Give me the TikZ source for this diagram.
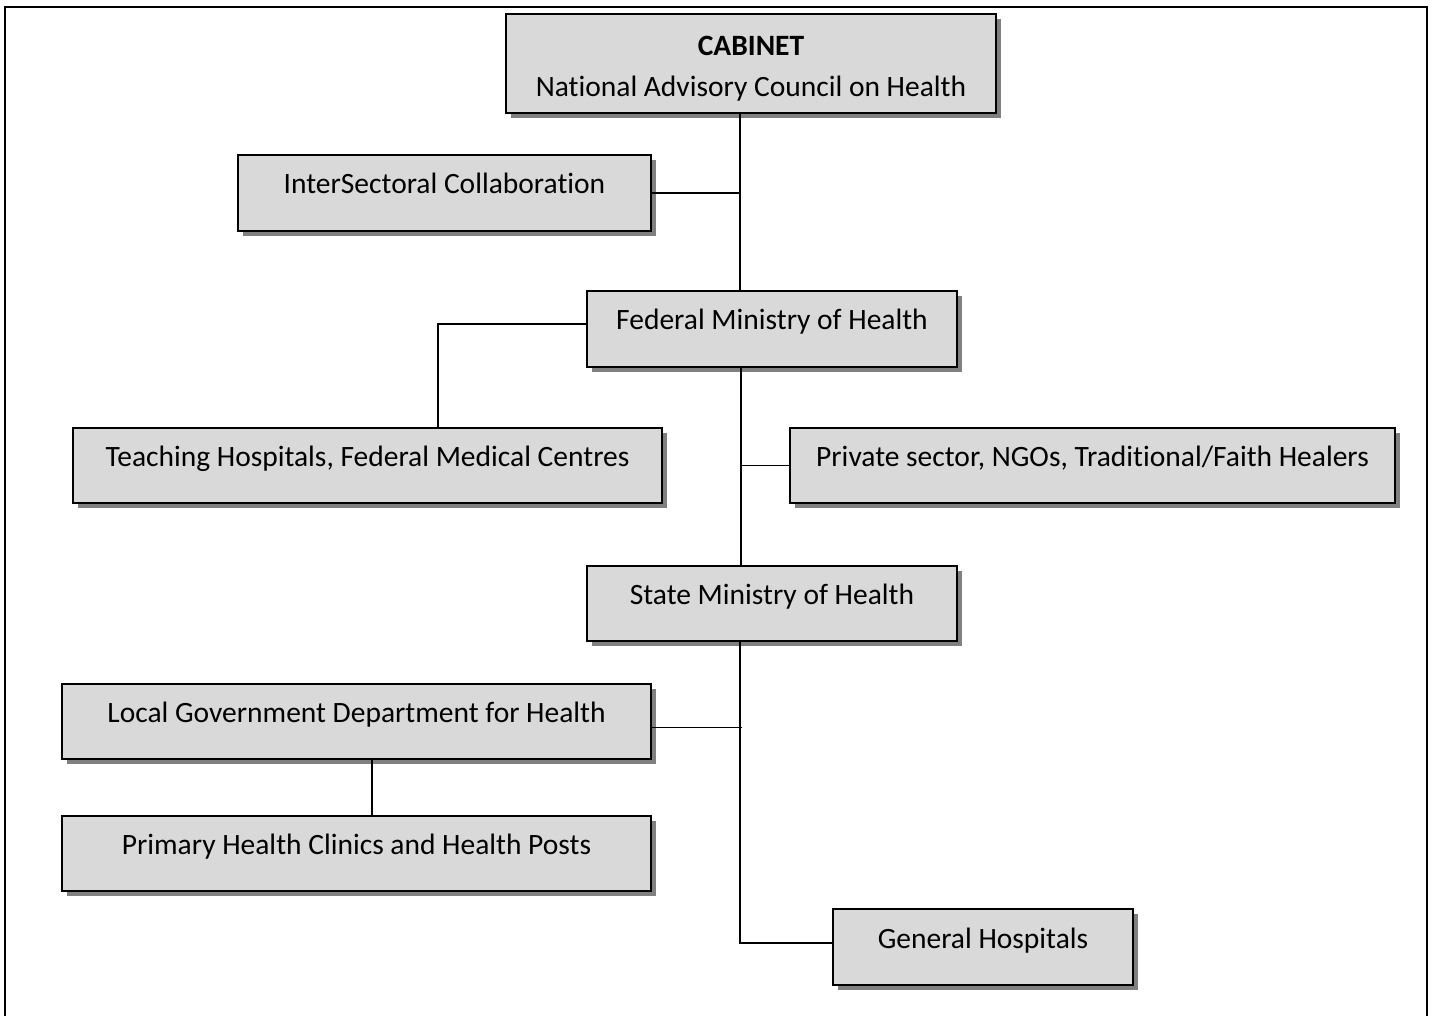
\documentclass[tikz,border=0pt]{standalone}
\usepackage{fontspec}
\setmainfont{Carlito}[Ligatures=NoCommon]
\usetikzlibrary{shadows}
\definecolor{boxfill}{HTML}{D9D9D9}
\definecolor{shade}{HTML}{808080}
\begin{document}
\begin{tikzpicture}[x=1pt,y=-1pt,
  basebox/.style={draw=black, line width=2pt, fill=boxfill, inner sep=0pt,
    font=\fontsize{29.5}{41}\selectfont, align=center,
    drop shadow={shadow xshift=5pt, shadow yshift=-5pt, fill=shade, opacity=1}},
  orgbox/.style={basebox, text height=19pt, text depth=17pt},
  link/.style={draw=black, line width=1.6pt}]
\useasboundingbox (0,0) rectangle (1435,1016);
% outer frame, open at the bottom
\draw[line width=2.5pt] (5,1016) -- (5,7) -- (1427,7) -- (1427,1016);

% boxes
\node[basebox, minimum width=490pt, minimum height=99pt]
  (cab) at (751,63.5) {\rule{0pt}{29pt}\textbf{CABINET}\\National Advisory Council on Health};
\node[orgbox, minimum width=413pt, minimum height=76pt] (inter) at (444.5,193) {InterSectoral Collaboration};
\node[orgbox, minimum width=370pt, minimum height=76pt] (fed) at (772,329) {Federal Ministry of Health};
\node[orgbox, minimum width=589pt, minimum height=75pt] (teach) at (367.5,465.5) {Teaching Hospitals, Federal Medical Centres};
\node[orgbox, minimum width=605pt, minimum height=75pt] (priv) at (1092.5,465.5) {Private sector, NGOs, Traditional/Faith Healers};
\node[orgbox, minimum width=370pt, minimum height=75pt] (state) at (772,603.5) {State Ministry of Health};
\node[orgbox, minimum width=589pt, minimum height=75pt] (local) at (356.5,721.5) {Local Government Department for Health};
\node[orgbox, minimum width=589pt, minimum height=75pt] (prim) at (356.5,853.5) {Primary Health Clinics and Health Posts};
\node[orgbox, minimum width=300pt, minimum height=76pt] (gen) at (983,947) {General Hospitals};

% trunk positions
\coordinate (ta) at (740,0);
\coordinate (tb) at (741,0);
\coordinate (tl) at (438,0);
\coordinate (tp) at (372,0);
\coordinate (gcorner) at (740,943);

% connectors
\draw[link] (cab.south -| ta) -- (fed.north -| ta);
\draw[link] (inter.east) -- (inter.east -| ta);
\draw[link] ([yshift=5pt]fed.west) -| (teach.north -| tl);
\draw[link] (fed.south -| tb) -- (state.north -| tb);
\draw[link] (priv.west) -- (priv.west -| tb);
\draw[link] (state.south -| ta) -- (gcorner) -- (gcorner -| gen.west);
\draw[link] ([yshift=-6pt]local.east) -- ([yshift=-6pt,xshift=2pt]local.east -| ta);
\draw[link] (local.south -| tp) -- (prim.north -| tp);
\end{tikzpicture}
\end{document}
